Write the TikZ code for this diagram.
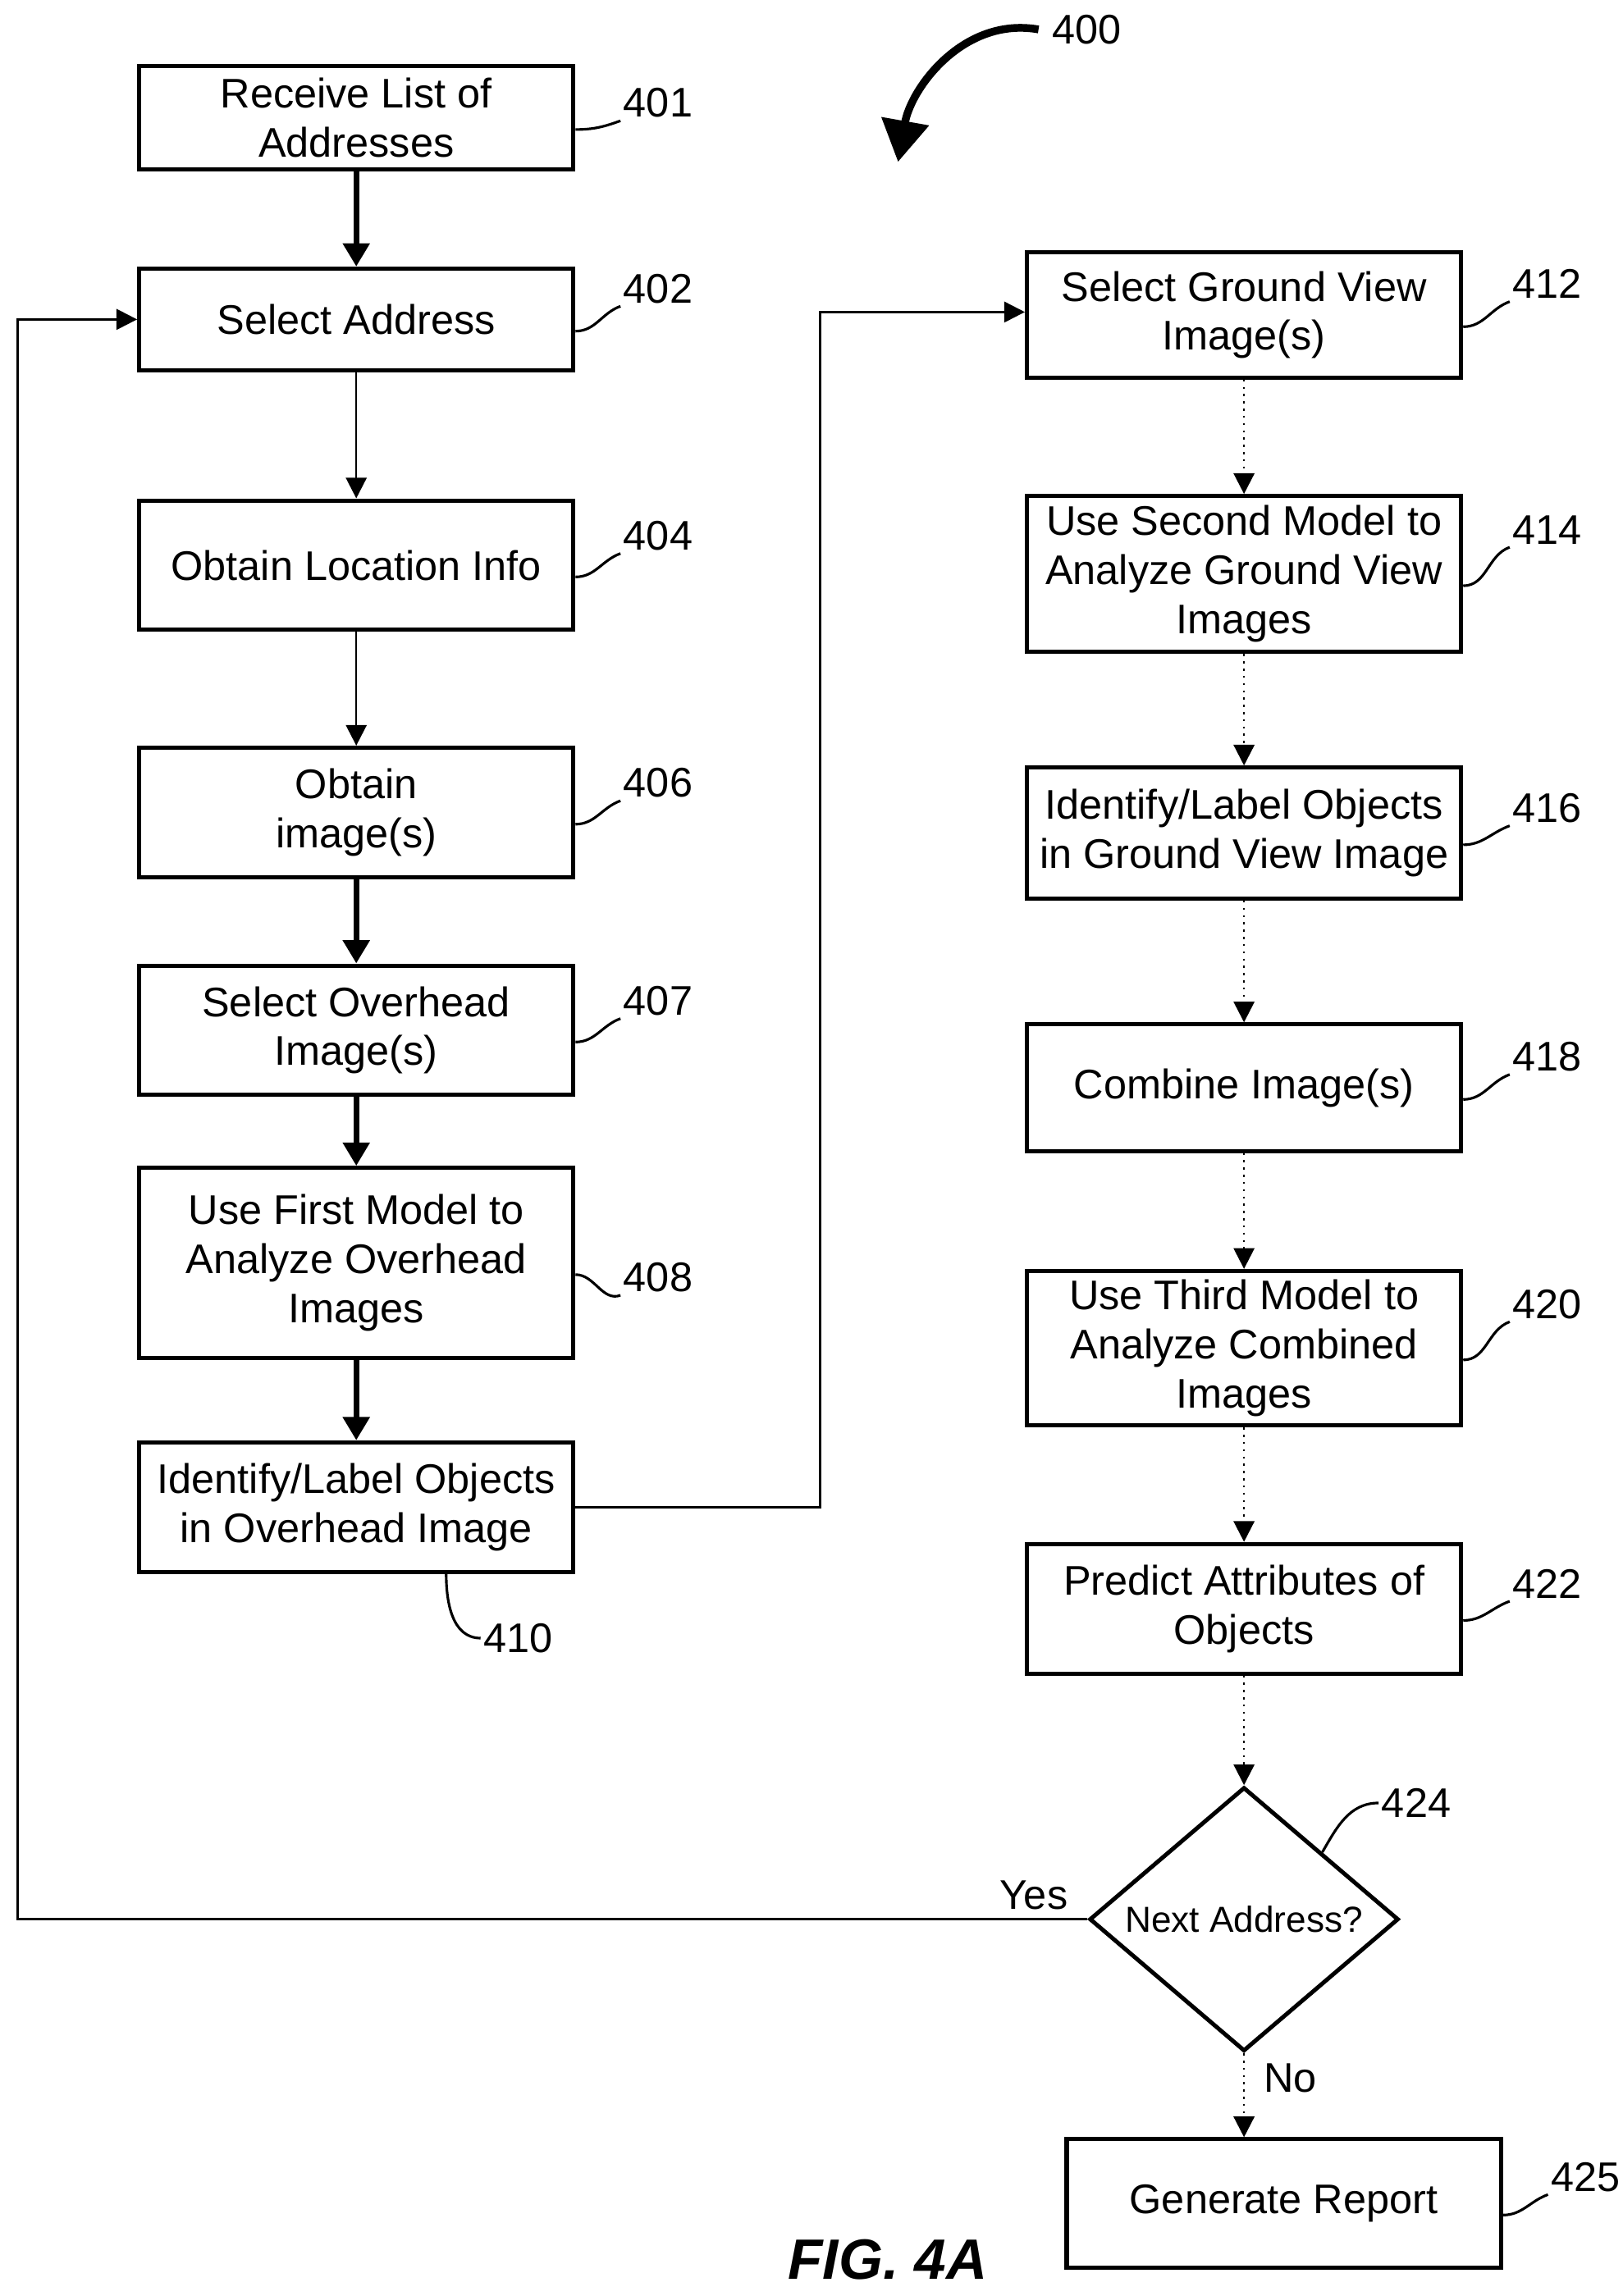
\documentclass[tikz,border=0pt]{standalone}
\usepackage{fontspec}
\setmainfont{Liberation Sans}
\usetikzlibrary{arrows.meta,shapes.geometric,positioning}

\tikzset{
  box/.style={draw,line width=1.6pt,minimum width=5.9cm,align=center,inner sep=2pt},
  ref/.style={inner sep=1pt},
  lead/.style={line width=1pt},
  thick arrow/.style={line width=2.2pt,-{Triangle[length=9pt,width=10pt]}},
  thin arrow/.style={line width=0.8pt,-{Triangle[length=8pt,width=8pt]}},
  dot arrow/.style={line width=0.8pt,dotted,-{Triangle[length=8pt,width=8pt]}}
}

\begin{document}
\begin{tikzpicture}[x=0.02cm,y=-0.02cm,font=\fontsize{16}{19}\selectfont]
\useasboundingbox (0,0) rectangle (1102,1560);

% left column
\node[box,minimum height=1.4cm]  (b401) at (242,80)   {Receive List of\\Addresses};
\node[box,minimum height=1.38cm] (b402) at (242,217)  {Select Address};
\node[box,minimum height=1.76cm] (b404) at (242,384)  {Obtain Location Info};
\node[box,minimum height=1.76cm] (b406) at (242,552)  {Obtain\\image(s)};
\node[box,minimum height=1.76cm] (b407) at (242,700)  {Select Overhead\\Image(s)};
\node[box,minimum height=2.58cm] (b408) at (242,858)  {Use First Model to\\Analyze Overhead\\Images};
\node[box,minimum height=1.76cm] (b410) at (242,1024) {Identify/Label Objects\\in Overhead Image};

% right column
\node[box,minimum height=1.7cm]  (b412) at (845,214)  {Select Ground View\\Image(s)};
\node[box,minimum height=2.12cm] (b414) at (845,390)  {Use Second Model to\\Analyze Ground View\\Images};
\node[box,minimum height=1.78cm] (b416) at (845,566)  {Identify/Label Objects\\in Ground View Image};
\node[box,minimum height=1.72cm] (b418) at (845,739)  {Combine Image(s)};
\node[box,minimum height=2.1cm]  (b420) at (845,916)  {Use Third Model to\\Analyze Combined\\Images};
\node[box,minimum height=1.76cm] (b422) at (845,1093) {Predict Attributes of\\Objects};
\node[draw,diamond,line width=1.6pt,minimum width=4.2cm,minimum height=3.12cm,inner sep=0pt,
      font=\fontsize{14}{16}\selectfont] (d424) at (845,1304) {Next Address?};
\node[box,minimum height=1.74cm] (b425) at (872,1497) {Generate Report};

% reference numbers
\foreach \n/\x/\y in {401/447/70,402/447/196,404/447/364,406/447/532,407/447/680,408/447/868,
                      412/1051/193,414/1051/360,416/1051/549,418/1051/718,420/1051/886,422/1051/1076,425/1077/1479}
  \node[ref] (l\n) at (\x,\y) {\n};
\node[ref] (l410) at (352,1113) {410};
\node[ref] (l424) at (962,1225) {424};
\node[ref] (l400) at (738,20) {400};

\foreach \n in {401,402,404,406,407,408,412,414,416,418,420,422,425}
  \draw[lead] ([yshift=-0.16cm]b\n.east) to[out=0,in=-160] (l\n.south west);
\draw[lead] ([xshift=4.2cm]b410.south west) to[out=-90,in=180] (l410.west);
\draw[lead] (d424.north east) to[out=60,in=180] (l424.west);
\draw[line width=3pt,-{Triangle[length=16pt,width=18pt]}] ([xshift=-4pt]l400.west) to[out=170,in=80] (610,110);

% connectors
\draw[thick arrow] (b401) -- (b402);
\draw[thin arrow]  (b402) -- (b404);
\draw[thin arrow]  (b404) -- (b406);
\draw[thick arrow] (b406) -- (b407);
\draw[thick arrow] (b407) -- (b408);
\draw[thick arrow] (b408) -- (b410);
\draw[thin arrow]  (b410.east) -| (557,212) -- (b412.west |- 557,212);
\draw[dot arrow] (b412) -- (b414);
\draw[dot arrow] (b414) -- (b416);
\draw[dot arrow] (b416) -- (b418);
\draw[dot arrow] (b418) -- (b420);
\draw[dot arrow] (b420) -- (b422);
\draw[dot arrow] (b422) -- (d424);
\draw[dot arrow] (d424) -- node[right,pos=0.3,xshift=4pt] {No} (b425.north -| d424);
\draw[thin arrow] (d424.west) -- node[above,pos=0.05] {Yes} (12,1304) |- (b402.west);

\node[font=\fontsize{22}{26}\selectfont\bfseries\itshape] (fig) at (603,1535) {FIG. 4A};
\end{tikzpicture}
\end{document}
